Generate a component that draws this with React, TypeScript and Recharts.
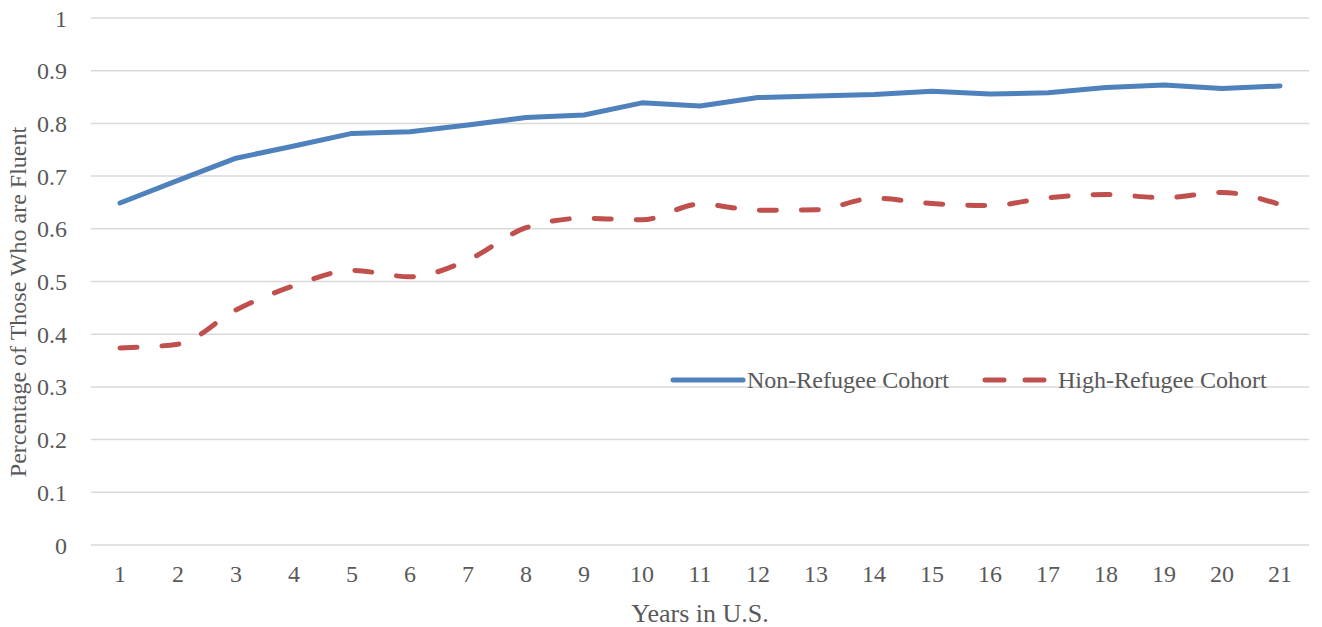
import React from 'react';
import { LineChart, Line, XAxis, YAxis, CartesianGrid, Legend } from 'recharts';

const years = ['1','2','3','4','5','6','7','8','9','10','11','12','13','14','15','16','17','18','19','20','21'];
const nonRefugee = [0.649,0.692,0.734,0.757,0.781,0.784,0.797,0.811,0.816,0.839,0.833,0.849,0.852,0.855,0.861,0.856,0.858,0.868,0.873,0.866,0.871];
const highRefugee = [0.374,0.381,0.446,0.492,0.521,0.509,0.541,0.602,0.620,0.617,0.647,0.635,0.636,0.658,0.648,0.644,0.659,0.665,0.659,0.669,0.646];
const yTicks = [0,0.1,0.2,0.3,0.4,0.5,0.6,0.7,0.8,0.9,1];

const data = years.map((y, i) => ({ year: y, nonRefugee: nonRefugee[i], highRefugee: highRefugee[i] }));

const FONT = '"Liberation Serif", "Times New Roman", serif';
const TXT = '#595959';
const BLUE = '#4f81bd';
const RED = '#c0504d';
const DASH = '17 25';

const LegendContent = () => (
  <div style={{ display: 'flex', alignItems: 'center', fontFamily: FONT, fontSize: 24, color: TXT, whiteSpace: 'nowrap', lineHeight: '28px' }}>
    <svg width={76} height={10} style={{ marginRight: 1 }}>
      <line x1={3} y1={5} x2={73} y2={5} stroke={BLUE} strokeWidth={5} strokeLinecap="round" />
    </svg>
    <span>Non-Refugee Cohort</span>
    <svg width={76} height={10} style={{ marginLeft: 32, marginRight: 1 }}>
      <line x1={4} y1={5} x2={72} y2={5} stroke={RED} strokeWidth={5} strokeLinecap="round" strokeDasharray="19 21" />
    </svg>
    <span>High-Refugee Cohort</span>
  </div>
);

const YLabel = (props: any) => {
  const vb = props.viewBox || { x: 0, y: 0, width: 0, height: 0 };
  const cx = vb.x + 18;
  const cy = 302;
  return (
    <text x={cx} y={cy} transform={`rotate(-90, ${cx}, ${cy})`} textAnchor="middle" dominantBaseline="central"
      fontFamily={FONT} fontSize={24} fill={TXT}>
      Percentage of Those Who are Fluent
    </text>
  );
};

export default function App() {
  return (
    <div style={{ position: 'absolute', left: 0, top: 0, width: 1322, height: 627, background: '#fff' }}>
      <LineChart width={1322} height={627} data={data} margin={{ top: 18, right: 13, bottom: 0, left: 0 }}>
        <CartesianGrid vertical={false} stroke="#d9d9d9" strokeWidth={1.5} />
        <XAxis dataKey="year" axisLine={false} tickLine={false} padding={{ left: 29, right: 29 }} height={82}
          tick={{ fontFamily: FONT, fontSize: 24, fill: TXT }} tickMargin={14} interval={0}
          label={{ value: 'Years in U.S.', position: 'insideBottom', offset: 5, fontFamily: FONT, fontSize: 26, fill: TXT }} />
        <YAxis domain={[0, 1]} ticks={yTicks} axisLine={false} tickLine={false} width={91}
          tick={{ fontFamily: FONT, fontSize: 24, fill: TXT }} tickMargin={18}
          tickFormatter={(v: number) => String(Math.round(v * 10) / 10)}
          label={{ content: YLabel }} />
        <Legend layout="horizontal" verticalAlign="middle" align="center" content={LegendContent}
          wrapperStyle={{ position: 'absolute', left: 670, top: 366, width: 640 }} />
        <Line type="linear" dataKey="nonRefugee" stroke={BLUE} strokeWidth={5} dot={false} isAnimationActive={false} strokeLinecap="round" strokeLinejoin="round" />
        <Line type="monotone" dataKey="highRefugee" stroke={RED} strokeWidth={5} dot={false} isAnimationActive={false} strokeDasharray={DASH} strokeLinecap="round" strokeLinejoin="round" />
      </LineChart>
    </div>
  );
}
